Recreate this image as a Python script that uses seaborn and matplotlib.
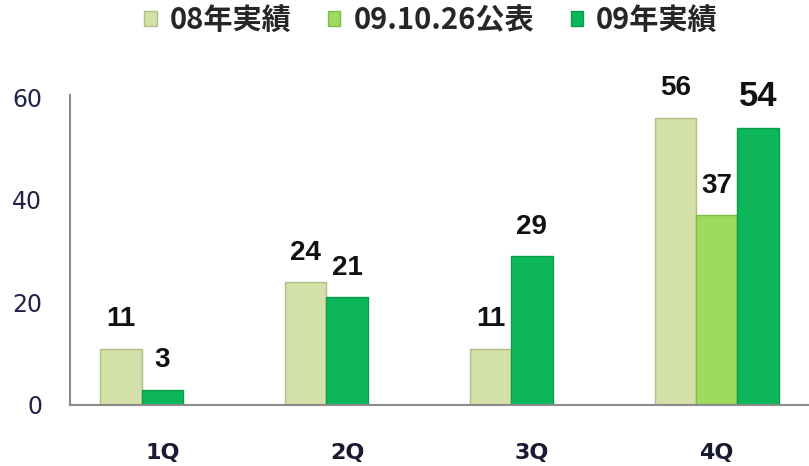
import numpy as np
import pandas as pd
import matplotlib
matplotlib.use('Agg')
import matplotlib.pyplot as plt
from matplotlib.patches import Patch
import seaborn as sns

# data
quarters = ['1Q', '2Q', '3Q', '4Q']
actual_08 = [11, 24, 11, 56]
announced_0910 = [np.nan, np.nan, np.nan, 37]
actual_09 = [3, 21, 29, 54]
series_names = ['08年実績', '09.10.26公表', '09年実績']
y_ticks = [0, 20, 40, 60]

colors = {'08年実績': '#D3E0A7', '09.10.26公表': '#9CDB5D', '09年実績': '#0DB658'}
edges = {'08年実績': '#AFBE86', '09.10.26公表': '#80BC48', '09年実績': '#0A9A49'}

# long table; in the source chart the 09 actuals sit in the middle slot
# whenever there is no announced value for the quarter
rows = []
for i, q in enumerate(quarters):
    rows.append({'quarter': q, 'slot': 0, 'series': series_names[0], 'value': actual_08[i]})
    if np.isnan(announced_0910[i]):
        rows.append({'quarter': q, 'slot': 1, 'series': series_names[2], 'value': actual_09[i]})
    else:
        rows.append({'quarter': q, 'slot': 1, 'series': series_names[1], 'value': announced_0910[i]})
        rows.append({'quarter': q, 'slot': 2, 'series': series_names[2], 'value': actual_09[i]})
df = pd.DataFrame(rows)

sns.set_style('white')
plt.rcParams['font.family'] = ['DejaVu Sans']

fig = plt.figure(figsize=(8.09, 4.66), dpi=100)
ax = fig.add_axes([70 / 809, 1 - 405 / 466, 739 / 809, 310 / 466])

sns.barplot(data=df, x='quarter', y='value', hue='slot', hue_order=[0, 1, 2],
            order=quarters, width=0.67, dodge=True, legend=False, ax=ax,
            palette=['#cccccc'] * 3, saturation=1)

# recolour each bar by its series and label it
for slot, cont in zip([0, 1, 2], ax.containers):
    sub = df[df.slot == slot].set_index('quarter').reindex(quarters).dropna()
    for bar, (q, r) in zip(cont, sub.iterrows()):
        bar.set_facecolor(colors[r.series])
        bar.set_edgecolor(edges[r.series])
        bar.set_linewidth(1.0)
        big = (q == quarters[-1] and r.series == series_names[2])
        ax.annotate(f'{int(r.value)}', (bar.get_x() + bar.get_width() / 2, bar.get_height()),
                    xytext=(0, 16), textcoords='offset points', ha='center', va='baseline',
                    fontsize=25 if big else 20, fontweight='bold',
                    family='Liberation Sans', color='#111111')

ax.set_xlim(-0.5, 3.5)
ax.set_ylim(0, 60.4)
ax.set_yticks(y_ticks)
ax.set_xlabel('')
ax.set_ylabel('')
sns.despine(ax=ax)
for side in ['left', 'bottom']:
    ax.spines[side].set_color('#8c8c8c')
    ax.spines[side].set_linewidth(1.5)
ax.tick_params(axis='y', length=0, pad=20, labelsize=17, labelcolor='#22224a')
ax.tick_params(axis='x', length=0, pad=27, labelsize=16, labelcolor='#1a1a33')
for lbl in ax.get_xticklabels():
    lbl.set_fontweight('bold')

handles = [Patch(facecolor=colors[s], edgecolor=edges[s]) for s in series_names]
fig.legend(handles, series_names, loc='upper center', bbox_to_anchor=(431 / 809, 1.045),
           ncol=3, frameon=False, handlelength=0.42, handleheight=0.42,
           handletextpad=0.45, columnspacing=1.25,
           prop={'family': ['Noto Sans CJK JP', 'DejaVu Sans'], 'weight': 'bold', 'size': 21})

fig.savefig('out.png', dpi=100)
